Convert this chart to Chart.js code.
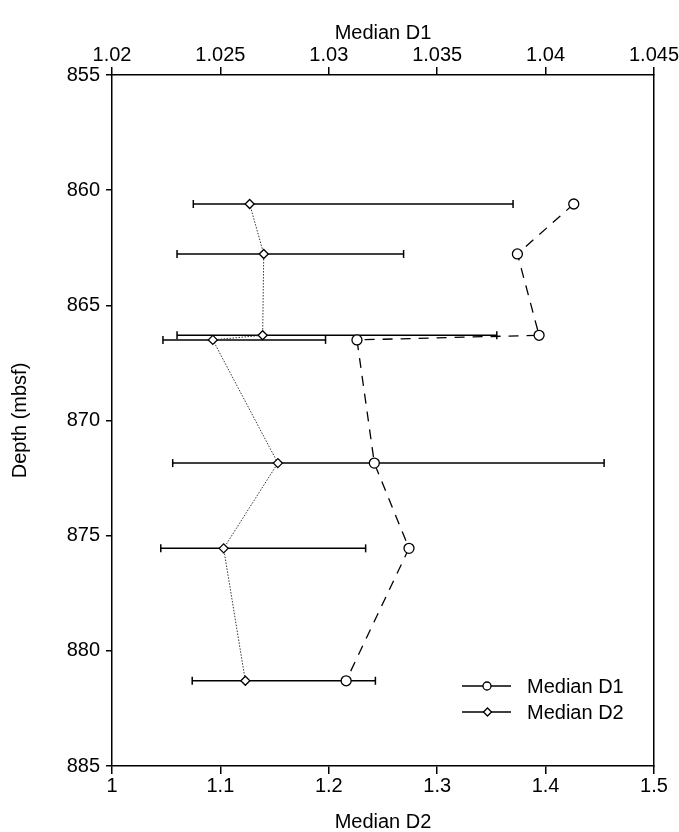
<!DOCTYPE html>
<html>
<head>
<meta charset="utf-8">
<title>Median D1 / D2 vs depth</title>
<script src="https://cdn.jsdelivr.net/npm/chart.js@4.4.1/dist/chart.umd.min.js"></script>
<style>
  body { margin: 0; background: #fff; }
  #wrap { width: 679px; height: 832px; }
</style>
</head>
<body>
<div id="wrap"><canvas id="depth_chart" width="679" height="832"></canvas></div>
<script>
// values
var depth  = [860.6, 862.77, 866.3, 866.5, 871.85, 875.55, 881.3];
var d1     = [1.0413, 1.0387, 1.0397, 1.0313, 1.0321, 1.0337, 1.0308];
var d2     = [1.127, 1.140, 1.139, 1.093, 1.153, 1.103, 1.123];
var d2Low  = [1.075, 1.060, 1.060, 1.047, 1.056, 1.045, 1.074];
var d2High = [1.370, 1.269, 1.355, 1.197, 1.454, 1.234, 1.243];

var ticksD1    = [1.02, 1.025, 1.03, 1.035, 1.04, 1.045];
var ticksD2    = [1, 1.1, 1.2, 1.3, 1.4, 1.5];
var ticksDepth = [855, 860, 865, 870, 875, 880, 885];

Chart.defaults.font.family = '"Liberation Sans", Arial, sans-serif';
Chart.defaults.font.size = 20;
Chart.defaults.color = '#000';

function pts(xs) {
  return xs.map(function(v, i) { return { x: v, y: depth[i] }; });
}

// one small line per depth for the range bars
var barSets = depth.map(function(d, i) {
  return {
    label: 'range ' + i,
    data: [{ x: d2Low[i], y: d }, { x: d2High[i], y: d }],
    xAxisID: 'x',
    showLine: true,
    borderColor: '#000',
    borderWidth: 1.5,
    pointStyle: 'line',
    rotation: 90,
    pointRadius: 4,
    pointBorderWidth: 1.5,
    pointBorderColor: '#000',
    order: 3
  };
});

var datasets = barSets.concat([
  {
    label: 'Median D2',
    data: pts(d2),
    xAxisID: 'x',
    showLine: true,
    borderColor: '#333',
    borderWidth: 1,
    borderDash: [1.5, 1.5],
    pointStyle: 'rectRot',
    pointRadius: 4.5,
    pointBackgroundColor: '#fff',
    pointBorderColor: '#000',
    pointBorderWidth: 1.3,
    order: 2
  },
  {
    label: 'Median D1',
    data: pts(d1),
    xAxisID: 'x2',
    showLine: true,
    borderColor: '#000',
    borderWidth: 1.3,
    borderDash: [10, 8],
    pointStyle: 'circle',
    pointRadius: 5,
    pointBackgroundColor: '#fff',
    pointBorderColor: '#000',
    pointBorderWidth: 1.3,
    order: 1
  }
]);

function setTicks(arr) {
  return function(scale) {
    scale.ticks = arr.map(function(v) { return { value: v }; });
  };
}

// legend drawn inside the plot, lower right
var insideLegend = {
  id: 'insideLegend',
  afterDraw: function(chart) {
    var ctx = chart.ctx;
    var rows = [
      { text: 'Median D1', y: 686, mark: 'circle' },
      { text: 'Median D2', y: 712, mark: 'diamond' }
    ];
    ctx.save();
    ctx.font = '20px "Liberation Sans", Arial, sans-serif';
    ctx.textBaseline = 'middle';
    ctx.fillStyle = '#000';
    rows.forEach(function(r) {
      ctx.strokeStyle = '#000';
      ctx.lineWidth = 1.3;
      ctx.setLineDash([]);
      ctx.beginPath();
      ctx.moveTo(462, r.y);
      ctx.lineTo(511, r.y);
      ctx.stroke();
      ctx.beginPath();
      if (r.mark === 'circle') {
        ctx.arc(487, r.y, 4, 0, Math.PI * 2);
      } else {
        ctx.moveTo(483.5, r.y);
        ctx.lineTo(487.5, r.y - 4);
        ctx.lineTo(491.5, r.y);
        ctx.lineTo(487.5, r.y + 4);
        ctx.closePath();
      }
      ctx.fillStyle = '#fff';
      ctx.fill();
      ctx.stroke();
      ctx.fillStyle = '#000';
      ctx.fillText(r.text, 527, r.y + 1);
    });
    ctx.restore();
  }
};

var axisGrid = { display: true, drawOnChartArea: false, drawTicks: true, tickLength: 8, color: '#000', lineWidth: 1.5 };
var axisBorder = { display: true, color: '#000', width: 1.5 };

new Chart(document.getElementById('depth_chart').getContext('2d'), {
  type: 'scatter',
  data: { datasets: datasets },
  options: {
    responsive: false,
    animation: false,
    layout: { padding: 0 },
    plugins: {
      legend: { display: false },
      tooltip: { enabled: false }
    },
    scales: {
      x: {
        type: 'linear',
        position: 'bottom',
        min: 1, max: 1.5,
        afterBuildTicks: setTicks(ticksD2),
        afterFit: function(s) { s.height = 66; },
        grid: axisGrid,
        border: axisBorder,
        ticks: { padding: 0, maxRotation: 0, callback: function(v) { return String(+v.toFixed(3)); } },
        title: { display: true, text: 'Median D2', padding: { top: 0, bottom: 0 }, font: { size: 20, lineHeight: 1 } }
      },
      x2: {
        type: 'linear',
        position: 'top',
        min: 1.02, max: 1.045,
        afterBuildTicks: setTicks(ticksD1),
        afterFit: function(s) { s.height = 75; },
        grid: axisGrid,
        border: axisBorder,
        ticks: { padding: 0, maxRotation: 0, callback: function(v) { return String(+v.toFixed(3)); } },
        title: { display: true, text: 'Median D1', padding: { top: 23, bottom: 0 }, font: { size: 20, lineHeight: 1 } }
      },
      y: {
        type: 'linear',
        position: 'left',
        reverse: true,
        min: 855, max: 885,
        afterBuildTicks: setTicks(ticksDepth),
        afterFit: function(s) { s.width = 112; },
        grid: { display: true, drawOnChartArea: false, drawTicks: true, tickLength: 6, color: '#000', lineWidth: 1.5 },
        border: axisBorder,
        ticks: { padding: 6 },
        title: { display: true, text: 'Depth (mbsf)', padding: { top: 10, bottom: 0 }, font: { size: 20, lineHeight: 1 } }
      },
      yRight: {
        type: 'linear',
        position: 'right',
        min: 855, max: 885,
        afterFit: function(s) { s.width = 25; },
        grid: { display: false },
        border: axisBorder,
        ticks: { display: false }
      }
    }
  },
  plugins: [insideLegend]
});
</script>
</body>
</html>
